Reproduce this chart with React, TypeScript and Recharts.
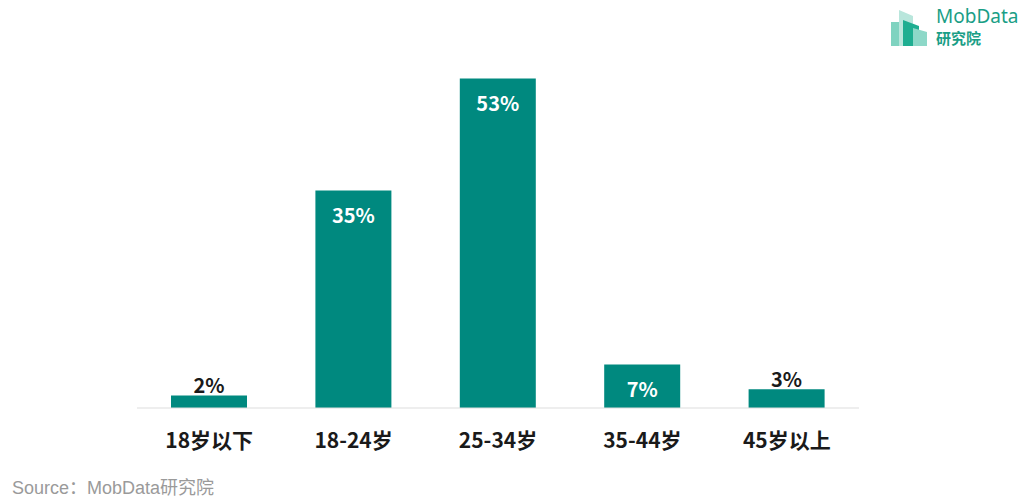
import React from "react";
import { BarChart, Bar, XAxis, YAxis, LabelList } from "recharts";

const categories = ["18岁以下", "18-24岁", "25-34岁", "35-44岁", "45岁以上"];
const shares = [2, 35, 53, 7, 3];
const data = categories.map((name, i) => ({ name, value: shares[i] }));

const BAR = "#00897F";
const FONT = "'Noto Sans CJK SC', 'Microsoft YaHei', sans-serif";

const ValueLabel = (props: any) => {
  const { x, y, width, value } = props;
  const inside = value >= 5;
  return (
    <text
      x={x + width / 2}
      y={inside ? y + 24 : y - 11}
      textAnchor="middle"
      dominantBaseline="central"
      fill={inside ? "#ffffff" : "#1a1a1a"}
      fontFamily={FONT}
      fontWeight={700}
      fontSize={20}
    >
      {value}%
    </text>
  );
};

const Tick = (props: any) => {
  const { x, y, payload } = props;
  return (
    <text
      x={x}
      y={y + 23}
      textAnchor="middle"
      dominantBaseline="central"
      fill="#1a1a1a"
      fontFamily={FONT}
      fontWeight={700}
      fontSize={21}
    >
      {payload.value}
    </text>
  );
};

export default function App() {
  return (
    <div style={{ position: "absolute", left: 0, top: 0, width: 1029, height: 503, background: "#fff" }}>
      <BarChart
        width={1029}
        height={503}
        data={data}
        margin={{ top: 35, right: 170, bottom: 35, left: 137 }}
        barSize={76}
      >
        <XAxis
          dataKey="name"
          axisLine={{ stroke: "#dddddd" }}
          tickLine={false}
          tick={<Tick />}
          height={60}
          interval={0}
        />
        <YAxis hide domain={[0, 60]} width={0} />
        <Bar dataKey="value" fill={BAR} isAnimationActive={false}>
          <LabelList dataKey="value" content={<ValueLabel />} />
        </Bar>
      </BarChart>
      <div
        style={{
          position: "absolute",
          left: 12,
          top: 477,
          fontFamily: "Arial, 'Liberation Sans', 'Noto Sans CJK SC', sans-serif",
          fontSize: 18,
          color: "#9a9a9a",
          whiteSpace: "nowrap",
          lineHeight: "22px",
        }}
      >
        Source：MobData研究院
      </div>
      <div style={{ position: "absolute", left: 889, top: 6, width: 140, height: 44 }}>
        <svg width={50} height={44} style={{ position: "absolute", left: 0, top: 0 }}>
          <polygon points="2,16 14,16 14,40 2,40" fill="#7fd3c0" />
          <polygon points="10,4 24,10 24,40 10,40" fill="#b9e6dc" />
          <polygon points="14,14 30,20 30,40 14,40" fill="#1eae91" />
          <polygon points="24,22 38,26 38,40 24,40" fill="#8dd8c8" />
        </svg>
        <div
          style={{
            position: "absolute",
            left: 47,
            top: 0,
            fontFamily: "'Noto Sans', Arial, sans-serif",
            fontSize: 19,
            color: "#1a9e86",
            lineHeight: "20px",
            whiteSpace: "nowrap",
          }}
        >
          MobData
        </div>
        <div
          style={{
            position: "absolute",
            left: 47,
            top: 24,
            fontFamily: "'Noto Sans CJK SC', sans-serif",
            fontSize: 15,
            fontWeight: 700,
            color: "#1a9e86",
            lineHeight: "16px",
            whiteSpace: "nowrap",
          }}
        >
          研究院
        </div>
      </div>
    </div>
  );
}
